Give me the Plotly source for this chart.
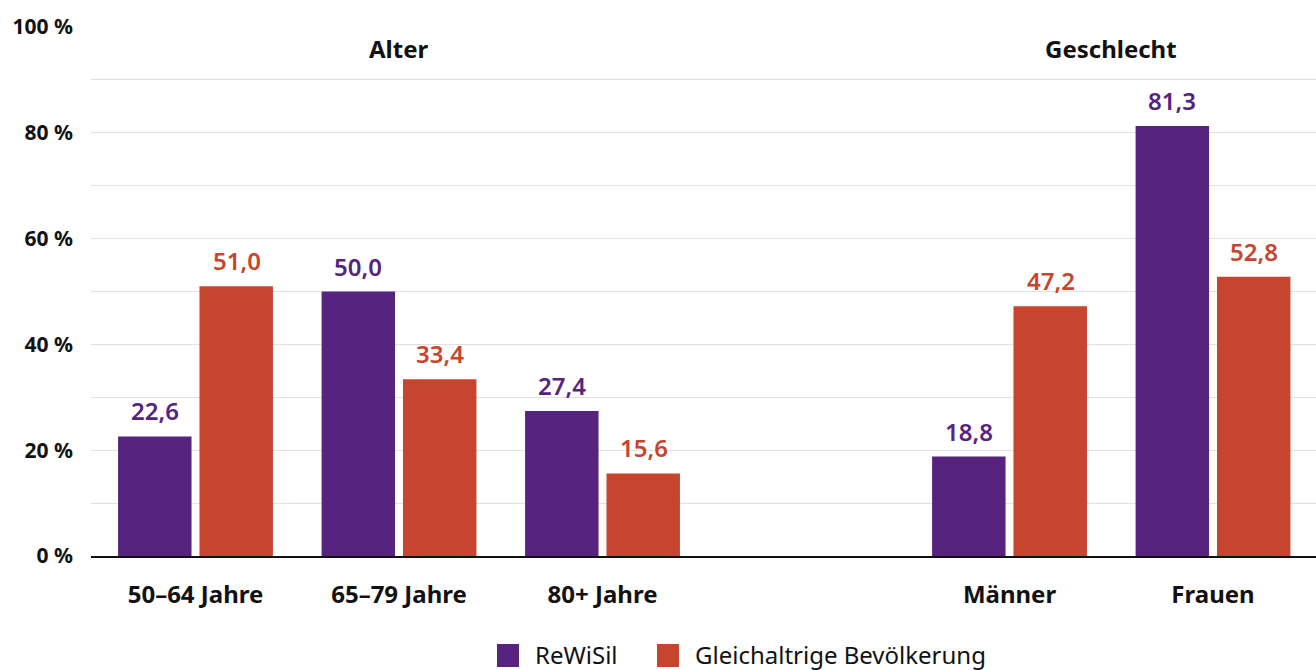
import plotly.graph_objects as go

# data
categories = ['50–64 Jahre', '65–79 Jahre', '80+ Jahre', ' ', 'Männer', 'Frauen']
rewisil = [22.6, 50.0, 27.4, None, 18.8, 81.3]
bevoelkerung = [51.0, 33.4, 15.6, None, 47.2, 52.8]
series_names = ['ReWiSil', 'Gleichaltrige Bevölkerung']
group_labels = ['Alter', 'Geschlecht']
group_pos = [1, 4.5]
y_ticks = [0, 20, 40, 60, 80, 100]

_purple = '#56237f'
_red = '#c7452e'
_font = 'Noto Sans'

# plot area in pixels (used for the hand-drawn legend)
_left, _right, _top, _bottom = 91, 1316, 27, 556


def fmt(v):
    return f'{v:.1f}'.replace('.', ',')


def px_x(px):
    return (px - _left) / (_right - _left)


def px_y(py):
    return (_bottom - py) / (_bottom - _top)


fig = go.Figure()

for name, vals, col in [(series_names[0], rewisil, _purple), (series_names[1], bevoelkerung, _red)]:
    fig.add_trace(go.Bar(x=categories,
                         y=vals,
                         name=name,
                         marker=dict(color=col, line=dict(width=0)),
                         showlegend=False,
                         hoverinfo='skip',
                         ))

annotations = []
# value labels above the bars
for vals, col, shift in [(rewisil, _purple, -41), (bevoelkerung, _red, 41)]:
    for c, v in zip(categories, vals):
        if v is None:
            continue
        annotations.append(dict(xref='x', yref='y', x=c, y=v,
                                xshift=shift, yshift=7,
                                xanchor='center', yanchor='bottom',
                                text=fmt(v),
                                font=dict(family=_font, size=24, color=col, weight=600),
                                showarrow=False))

# group headings
for lab, pos in zip(group_labels, group_pos):
    annotations.append(dict(xref='x', yref='y', x=pos, y=96,
                            xanchor='center', yanchor='middle',
                            text=lab,
                            font=dict(family=_font, size=24, color='#111111', weight=700),
                            showarrow=False))

# legend (drawn by hand so the swatches are big enough)
shapes = []
legend_items = [(series_names[0], _purple, 497), (series_names[1], _red, 657)]
for name, col, px in legend_items:
    shapes.append(dict(type='rect', xref='paper', yref='paper',
                       x0=px_x(px), x1=px_x(px + 22),
                       y0=px_y(667), y1=px_y(644),
                       fillcolor=col, line=dict(width=0)))
    annotations.append(dict(xref='paper', yref='paper',
                            x=px_x(px + 36), y=px_y(654),
                            xanchor='left', yanchor='middle',
                            text=name,
                            font=dict(family=_font, size=24, color='#111111'),
                            showarrow=False))

fig.update_layout(
    barmode='group',
    bargap=0.2,
    bargroupgap=0.0976,
    width=1316,
    height=670,
    margin=dict(l=_left, r=1316 - _right, t=_top, b=670 - _bottom, autoexpand=False),
    paper_bgcolor='white',
    plot_bgcolor='white',
    font=dict(family=_font, color='#111111'),
    xaxis=dict(
        type='category',
        categoryorder='array',
        categoryarray=categories,
        range=[-0.5135, 5.506],
        showgrid=False,
        showline=True,
        linecolor='#111111',
        linewidth=2,
        ticks='',
        tickfont=dict(family=_font, size=24, color='#111111', weight=700),
        ticklabelstandoff=16,
    ),
    yaxis=dict(
        range=[0, 100],
        tickvals=y_ticks,
        ticktext=[f'{t} %' for t in y_ticks],
        showgrid=True,
        gridcolor='#e1e1e1',
        gridwidth=1,
        minor=dict(dtick=10, showgrid=True, gridcolor='#e1e1e1', gridwidth=1),
        zeroline=False,
        showline=False,
        ticks='',
        ticklabelstandoff=17,
        tickfont=dict(family=_font, size=21, color='#111111', weight=700),
    ),
    annotations=annotations,
    shapes=shapes,
)

fig.write_html('out.html', config={'displayModeBar': False},
               post_script="document.body.style.margin='0';")
